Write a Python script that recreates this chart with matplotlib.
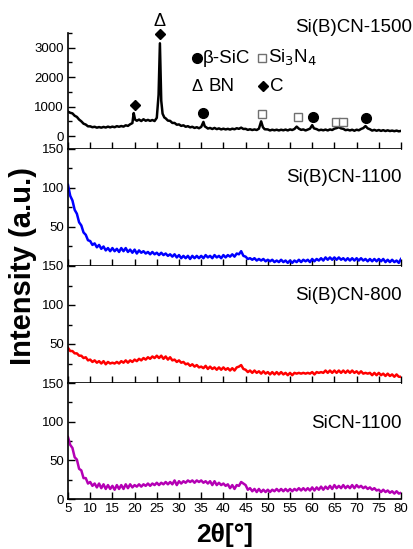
#!/usr/bin/python3
# -*- coding: utf-8 -*-

import numpy as np
import matplotlib
matplotlib.use('Agg')
import matplotlib.pyplot as plt

plt.rcParams['font.family'] = ['Liberation Sans', 'DejaVu Sans']

# 2theta grid (0.5 deg steps) shared by the three amorphous samples
two_theta = np.arange(5.0, 80.01, 0.5)

sibcn_1100 = [
    104, 90, 84, 72, 67, 56, 52, 43, 40, 33,
    32, 27, 29, 24, 27, 22, 25, 20, 23, 19,
    23, 19, 22, 18, 23, 19, 23, 18, 21, 17,
    21, 16, 20, 17, 19, 16, 18, 15, 18, 15,
    17, 14, 17, 14, 16, 13, 15, 12, 15, 11,
    14, 10, 13, 10, 13, 9, 13, 10, 13, 10,
    13, 10, 14, 11, 13, 10, 14, 11, 13, 10,
    14, 11, 14, 12, 15, 12, 16, 15, 19, 13,
    12, 9, 10, 8, 10, 7, 9, 7, 9, 6,
    8, 6, 8, 5, 7, 5, 8, 5, 7, 4,
    7, 4, 7, 5, 8, 5, 8, 6, 8, 5,
    9, 6, 9, 7, 10, 7, 11, 8, 11, 8,
    11, 8, 11, 8, 10, 7, 10, 7, 10, 7,
    10, 7, 10, 7, 9, 6, 9, 6, 9, 6,
    9, 6, 9, 5, 8, 5, 8, 5, 7, 4,
    9]

sibcn_800 = [
    45, 41, 41, 38, 38, 35, 35, 32, 33, 29,
    30, 27, 29, 26, 28, 25, 28, 24, 27, 25,
    26, 25, 27, 25, 28, 26, 29, 26, 29, 27,
    30, 28, 31, 29, 32, 30, 33, 31, 34, 32,
    35, 32, 35, 31, 34, 30, 33, 29, 30, 27,
    29, 26, 27, 24, 25, 22, 24, 21, 23, 20,
    21, 19, 22, 18, 21, 18, 20, 17, 20, 17,
    20, 17, 19, 16, 19, 16, 20, 21, 23, 18,
    17, 14, 16, 13, 16, 13, 15, 12, 15, 12,
    14, 11, 14, 11, 14, 11, 14, 11, 13, 10,
    13, 10, 13, 12, 13, 12, 13, 12, 13, 12,
    14, 11, 14, 13, 14, 13, 16, 13, 16, 13,
    16, 13, 16, 13, 16, 13, 16, 13, 16, 13,
    15, 12, 15, 12, 13, 12, 13, 10, 13, 10,
    13, 10, 12, 9, 12, 9, 11, 8, 11, 8,
    8]

sicn_1100 = [
    80, 70, 66, 54, 51, 39, 37, 27, 27, 20,
    22, 17, 20, 15, 20, 14, 19, 13, 18, 13,
    17, 12, 18, 13, 18, 13, 19, 14, 19, 15,
    18, 16, 19, 16, 19, 17, 20, 17, 20, 18,
    21, 18, 21, 19, 22, 19, 22, 19, 24, 18,
    23, 20, 23, 21, 24, 22, 24, 21, 24, 22,
    24, 21, 23, 20, 23, 18, 23, 18, 21, 18,
    20, 17, 19, 14, 18, 13, 18, 17, 22, 20,
    18, 12, 14, 10, 13, 9, 13, 9, 12, 9,
    12, 9, 12, 10, 13, 10, 13, 10, 13, 10,
    13, 10, 13, 11, 14, 11, 14, 11, 14, 11,
    15, 11, 15, 12, 16, 12, 16, 13, 17, 13,
    18, 14, 17, 14, 18, 14, 17, 14, 18, 14,
    18, 15, 17, 14, 16, 13, 15, 12, 14, 11,
    12, 9, 12, 9, 11, 8, 10, 7, 10, 7,
    8]

# crystallised sample, denser points around the reflections
x_1500 = [
    5, 5.5, 6, 6.5, 7, 7.5, 8, 8.5, 9, 9.5,
    10, 10.5, 11, 11.5, 12, 12.5, 13, 13.5, 14, 14.5,
    15, 15.5, 16, 16.5, 17, 17.5, 18, 18.5, 19, 19.5, 19.8, 20.1, 20.5,
    21, 21.5, 22, 22.5, 23, 23.5, 24, 24.5, 25, 25.4, 25.7, 26.0, 26.3, 26.7,
    27, 27.5, 28, 28.5, 29, 29.5, 30, 30.5, 31, 31.5,
    32, 32.5, 33, 33.5, 34, 34.5, 35, 35.5, 35.8, 36.2, 36.5,
    37, 37.5, 38, 38.5, 39, 39.5, 40, 40.5, 41, 41.5,
    42, 42.5, 43, 43.5, 44, 44.5, 45, 45.5, 46, 46.5,
    47, 47.5, 48, 48.5, 48.9, 49.3, 50, 50.5, 51, 51.5,
    52, 52.5, 53, 53.5, 54, 54.5, 55, 55.5, 56, 56.5,
    57, 57.5, 58, 58.5, 59, 59.5, 60, 60.4, 61, 61.5,
    62, 62.5, 63, 63.5, 64, 64.5, 65, 65.5, 66, 66.5,
    67, 67.5, 68, 68.5, 69, 69.5, 70, 70.5, 71, 71.5,
    72, 72.5, 73, 73.5, 74, 74.5, 75, 75.5, 76, 76.5,
    77, 77.5, 78, 78.5, 79, 79.5, 80]
sibcn_1500 = [
    830, 790, 770, 690, 650, 560, 500, 420, 390, 330,
    330, 300, 315, 285, 305, 285, 310, 290, 320, 295,
    320, 300, 335, 315, 340, 320, 365, 345, 400, 440, 780, 560, 520,
    560, 510, 570, 520, 550, 515, 545, 510, 620, 1400, 3150, 1200, 760, 630,
    600, 525, 515, 445, 445, 385, 395, 345, 365, 315,
    335, 295, 315, 275, 300, 265, 310, 480, 330, 290, 255,
    275, 240, 275, 235, 260, 225, 250, 225, 245, 220,
    250, 230, 265, 245, 285, 240, 245, 210, 230, 205,
    225, 205, 250, 500, 300, 230, 225, 190, 215, 195,
    215, 190, 215, 195, 220, 190, 225, 205, 240, 320,
    250, 210, 225, 190, 220, 250, 370, 260, 235, 195,
    215, 195, 220, 190, 225, 205, 250, 270, 300, 260,
    245, 200, 215, 190, 215, 180, 215, 195, 240, 270,
    340, 260, 230, 185, 210, 180, 205, 175, 200, 170,
    195, 170, 185, 165, 185, 160, 175]

# phase markers above the reflections of the 1500 sample
sic_peaks = [35.5, 60.2, 72.1]
sic_marks = [780, 640, 610]
si3n4_peaks = [48.7, 56.8, 65.3, 66.9]
si3n4_marks = [745, 645, 475, 475]
c_peaks = [20.0, 25.7]
c_marks = [1050, 3460]
bn_peak = 25.7
bn_mark = 3900

sample_names = ['Si(B)CN-1500', 'Si(B)CN-1100', 'Si(B)CN-800', 'SiCN-1100']
line_colors = ['black', '#0000ff', '#ff0000', '#b400b4']

W, H = 414, 549
fig = plt.figure(figsize=(W / 100, H / 100), dpi=100)

left = 68 / W
width = (401 - 68) / W
edges = [33, 149, 266, 383, 499]   # panel borders in pixels from the top

axes = []
for i in range(4):
    bottom = 1 - edges[i + 1] / H
    height = (edges[i + 1] - edges[i]) / H
    ax = fig.add_axes([left, bottom, width, height])
    for side in ['top', 'right']:
        ax.spines[side].set_visible(False)
    for side in ['left', 'bottom']:
        ax.spines[side].set_linewidth(1.2)
    ax.set_xlim(5, 80)
    ax.set_xticks(np.arange(5, 81, 5))
    ax.tick_params(axis='both', which='major', direction='in', length=5,
                   width=1.0, labelsize=9.5, pad=3)
    ax.tick_params(axis='y', which='minor', direction='in', length=3,
                   width=1.0)
    axes.append(ax)

series = [(x_1500, sibcn_1500), (two_theta, sibcn_1100),
          (two_theta, sibcn_800), (two_theta, sicn_1100)]
for i, ax in enumerate(axes):
    xs, ys = series[i]
    ax.plot(xs, ys, color=line_colors[i], lw=1.8, solid_joinstyle='round')
    if i < 3:
        ax.tick_params(axis='x', labelbottom=False)

# top panel
ax = axes[0]
ax.set_ylim(-440, 3500)
ax.set_yticks([0, 1000, 2000, 3000])
ax.set_yticks([500, 1500, 2500, 3500], minor=True)

# lower panels
for i in range(1, 4):
    ax = axes[i]
    ax.set_ylim(0, 150)
    ax.set_yticks([0, 50, 100, 150])
    ax.set_yticks([25, 75, 125], minor=True)
    if i < 3:
        ax.set_yticklabels(['', '50', '100', '150'])

# peak markers
ax = axes[0]
ax.plot(sic_peaks, sic_marks, 'o', color='black', ms=7, clip_on=False)
ax.plot(si3n4_peaks, si3n4_marks, 's', mfc='white', mec='#707070',
        mew=1.0, ms=6, clip_on=False)
ax.plot(c_peaks, c_marks, 'D', color='black', ms=5.5, clip_on=False)
ax.text(bn_peak, bn_mark, 'Δ', ha='center', va='center', fontsize=13,
        clip_on=False)

# legend made of symbols and text
ax.plot([34.0], [2640], 'o', color='black', ms=7)
ax.text(35.4, 2640, 'β-SiC', va='center', fontsize=13.5)
ax.plot([48.8], [2640], 's', mfc='white', mec='#707070', mew=1.0, ms=6)
ax.text(50.0, 2640, 'Si$_3$N$_4$', va='center', fontsize=13.5)
ax.text(34.0, 1695, 'Δ', ha='center', va='center', fontsize=12)
ax.text(36.6, 1695, 'BN', va='center', fontsize=13.5)
ax.plot([48.9], [1695], 'D', color='black', ms=5.5)
ax.text(50.6, 1695, 'C', va='center', fontsize=13.5)

# sample names
name_pos = [(412, 27), (402, 177), (402, 295), (402, 423)]
for name, (px, py) in zip(sample_names, name_pos):
    fig.text(px / W, 1 - py / H, name, ha='right', va='center', fontsize=13.5)

fig.text(23 / W, 1 - 266 / H, 'Intensity (a.u.)', rotation=90,
         ha='center', va='center', fontsize=21, fontweight='bold')
fig.text(225 / W, 2 / H, '2θ[°]', ha='center', va='bottom',
         fontsize=19, fontweight='bold')

fig.savefig('out.png', dpi=100)
